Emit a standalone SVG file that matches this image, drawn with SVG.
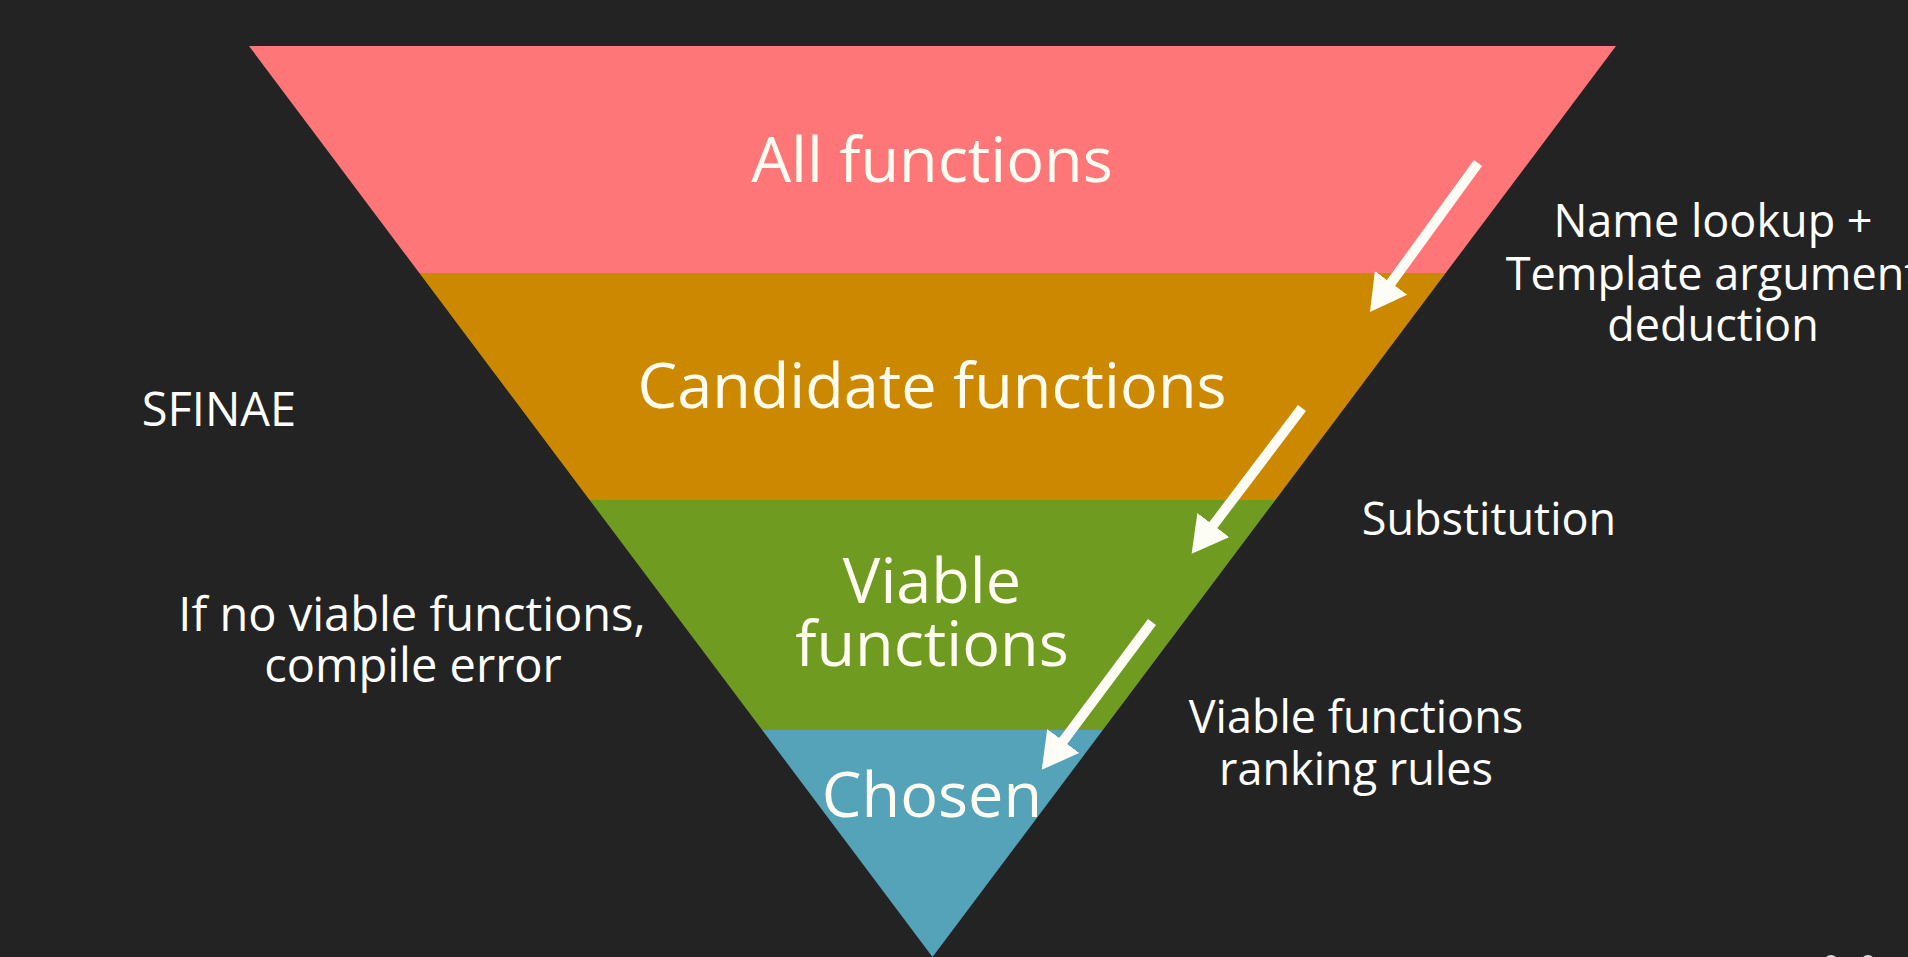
<svg xmlns="http://www.w3.org/2000/svg" width="1908" height="957" viewBox="0 0 1908 957">
  <style>
    .band-label { font-family: "Open Sans", "DejaVu Sans", sans-serif; font-size: 63px; fill: #fffdf2; text-anchor: middle; }
    .side-label { font-family: "Open Sans", "DejaVu Sans", sans-serif; font-size: 45px; fill: #ffffff; text-anchor: middle; }
    .left-label { font-size: 47px; }
    .arrow { stroke: #fdfdf6; stroke-width: 10; fill: none; marker-end: url(#head); }
  </style>
  <defs>
    <marker id="head" markerUnits="userSpaceOnUse" markerWidth="40" markerHeight="42" refX="16" refY="20" orient="auto" viewBox="0 0 40 42">
      <path d="M0,0 L36,20 L0,40 Z" fill="#fdfdf6"/>
    </marker>
  </defs>
  <rect x="0" y="0" width="1908" height="957" fill="#232323"/>

  <g id="all-functions">
    <polygon points="249,46 1616,46 1445.7,273 419.3,273" fill="#ff7679"/>
    <text class="band-label" x="932" y="182">All functions</text>
  </g>
  <g id="candidate-functions">
    <polygon points="419.3,273 1445.7,273 1275.4,500 589.6,500" fill="#cc8900"/>
    <text class="band-label" x="932" y="408">Candidate functions</text>
  </g>
  <g id="viable-functions">
    <polygon points="589.6,500 1275.4,500 1102.8,730 762.2,730" fill="#6f9b21"/>
    <text class="band-label" x="932" y="603">Viable</text>
    <text class="band-label" x="932" y="666">functions</text>
  </g>
  <g id="chosen">
    <polygon points="762.2,730 1102.8,730 932.5,957" fill="#55a3b8"/>
    <text class="band-label" x="932" y="817">Chosen</text>
  </g>

  <g id="connectors">
    <line class="arrow" x1="1478" y1="163" x2="1381.7" y2="295.8"/>
    <line class="arrow" x1="1302" y1="408" x2="1203.7" y2="537.8"/>
    <line class="arrow" x1="1152" y1="622" x2="1053.7" y2="753.8"/>
  </g>

  <g id="label-name-lookup">
    <text class="side-label" x="1713" y="237">Name lookup +</text>
    <text class="side-label" x="1713" y="290">Template argument</text>
    <text class="side-label" x="1713" y="341">deduction</text>
  </g>
  <g id="label-substitution">
    <text class="side-label" x="1489" y="535">Substitution</text>
  </g>
  <g id="label-ranking">
    <text class="side-label" x="1356" y="733">Viable functions</text>
    <text class="side-label" x="1356" y="785">ranking rules</text>
  </g>
  <g id="label-sfinae">
    <text class="side-label left-label" x="219" y="426">SFINAE</text>
  </g>
  <g id="label-compile-error">
    <text class="side-label left-label" x="412" y="631">If no viable functions,</text>
    <text class="side-label left-label" x="413" y="682">compile error</text>
  </g>

  <g id="corner-dots" fill="#d8d8d8">
    <circle cx="1831" cy="962" r="7"/>
    <circle cx="1868" cy="962" r="7"/>
  </g>
</svg>
